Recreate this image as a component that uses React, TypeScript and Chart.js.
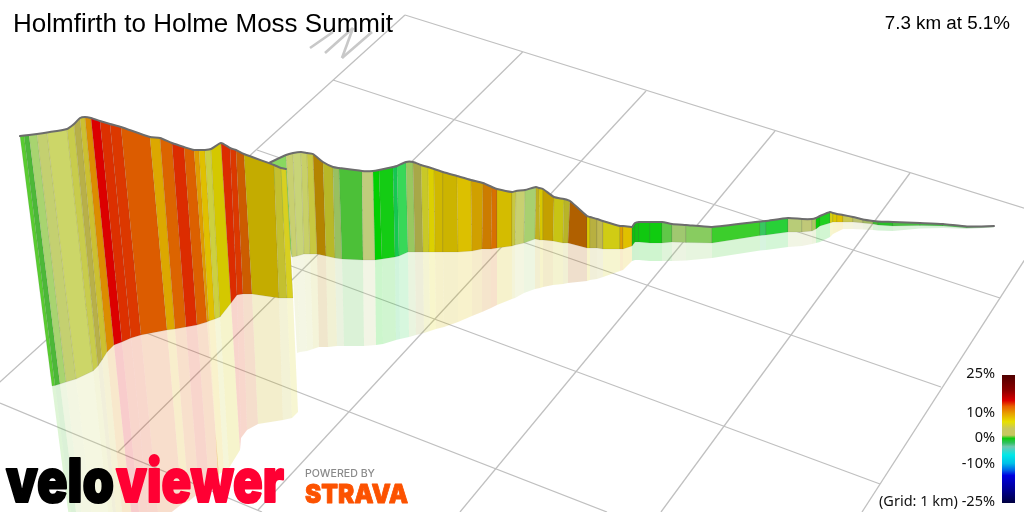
import React, { useEffect, useRef } from "react";
import { Chart, registerables } from "chart.js";

Chart.register(...registerables);

// Section 1: foreground wall
const topX1 = [20,24,29,37,47,67,74,80,85,91,100,110,121,150,160,172,184,194,199,205,211,221,230,236,244,274,281,286];
const topY1 = [136,135.5,135,134,132.5,129,124,118,117,118,121,124,127,137,138,143,147,150,150,150,149,143,148,150,154,165,168,169];
const baseX1 = [52,55,60,66,76,93,98,102,107,114,122,131,141,167,175,186,197,207,209,215,220,231,237,243,252,279,287,293];
const baseY1 = [386,385.5,384,382,379,371,366,360,352,345,342,338,335,330,329,327,325,322,321,319,317,303,295,294,294,298,298,298];
const reflX1 = [81,83,88,92,102,116,120,122,127,135,142,150,159,182,189,199,209,219,218,224,229,240,241,247,258,283,292,298];
const reflY1 = [611,610,608,605,601,589,584,578,564,549,541,531,522,504,501,493,485,477,475,471,468,450,438,430,424,420,418,412];
const colors1 = ["#58cc30","#4cb838","#a8d470","#c4d070","#ccd668","#c8cc4c","#b8b048","#ccc030","#dc8c00","#dc0000","#dc3000","#dc3800","#dc5c00","#dca800","#dc6400","#dc2c00","#dc6000","#e09c00","#e0c000","#ccd040","#d4c800","#dc2c00","#dc3800","#cc5c00","#c4ac00","#c4c030","#d8d020"];

// Section 2: middle wall
const topX2 = [269,286,293,301,307,313,323,333,339,362,373,379,393,397,406,413,421,428,434,443,457,471,483,492,497,512,516,525,536,539,543,554,564,570,587,590,597,603,620,623,632];
const topY2 = [163,155,153,152,153,154,162,167,168,171,171,170,167,166,162,162,165,167,169,172,176,180,183,187,189,192,191,190,187,188,189,197,199,201,216,217,219,221,226,226,227];
const baseX2 = [292,292,297,304,310,317,326,335,342,363,375,382,395,399,408,415,423,429,435,443,458,472,482,491,497,512,515,524,535,540,543,553,563,568,587,590,597,603,620,623,632];
const baseY2 = [257,257,256,254,254,254,256,258,259,260,260,259,257,256,252,252,252,252,252,252,252,251,249,249,248,246,245,243,239,240,240,241,243,243,248,248,248,249,249,249,246];
const reflX2 = [297,297,300,307,313,319,328,337,344,364,376,383,396,400,409,416,424,430,436,444,458,472,482,491,497,512,515,524,535,540,543,553,563,568,587,590,597,603,620,623,632];
const reflY2 = [353,353,352,351,349,347,347,346,346,346,345,344,340,339,337,335,333,331,329,327,322,316,312,308,305,299,298,293,289,288,287,285,284,283,281,280,279,277,271,270,261];
const colors2 = ["#88d860","#c8d070","#c8d478","#c8d068","#c8c840","#b48400","#b8b828","#98c060","#4cc038","#c0cc7c","#00d000","#14cc14","#14c850","#38d858","#98c860","#a8a848","#c8c828","#dcd000","#d0b800","#ccb400","#dcc000","#d0a000","#cc7c00","#d87000","#d4bc00","#c8c840","#c8d070","#a8d070","#c0b020","#d8c800","#c4a000","#c8c414","#b8b428","#b06000","#d8c800","#b8b040","#c0b850","#d0cc14","#e0a000","#e0c000"];

// Section 3: far wall
const topX3 = [632,635,639,650,662,672,686,712,760,766,788,802,812,816,820,830,833,837,843,853,863,873,878,893,920,943,967,994];
const topY3 = [227,223,222,222,222,224,225,227,221.5,221,218,219,219,218,216,212,213,214,215,217,219.5,221,221.5,222,223,224,226.5,226];
const baseY3 = [246,242,242,243,243,242,242.5,243,235.5,235,232,232,231,229,226,223,222,222,222,222,223,224,225,226,225.5,226,228,227];
const reflY3 = [261,260,260,261,261,261,260.5,258,250.5,250,247,246,244,243,242,237,234,232,229,229,229.5,230,230.5,231,228.5,228,229,227.5];
const colors3 = ["#10c010","#14c014","#10c810","#10cc10","#60c848","#a0c870","#88cc60","#3cce2c","#38c860","#28d038","#b8cc78","#c0c878","#a8c860","#08cc08","#20d020","#d8d010","#dcc800","#e0c000","#c8c850","#b8c070","#a0b860","#40b830","#28c028","#48c040","#40c040","#50c050","#60b860"];

// Ground grid: one line per entry [from x, from y, to x, to y]
const gridAcross = [[405,15,-10,391],[522.6,52,118,452],[646,91,258,510],[775,131,460,512],[910,173,661,512],[1040,236,862,512]];
const gridAlong = [[405,15,1030,210],[333,80,1000,298],[257,150,941,387],[175,223,880,484],[82,308,607,512],[0,403,262,512]];
const northStrokes = [[310,48,333,32],[325,53,353,28],[353,28,342,58],[342,58,372,32]];

// Legend
const legendLabels = ["25%","10%","0%","-10%","(Grid: 1 km) -25%"];
const legendLabelY = [374,413,438,464,502];
const legendBarX = [1002,1015];
const legendBarY = [375,503];
const legendStops = [0,0.12,0.2,0.245,0.3,0.365,0.42,0.47,0.495,0.53,0.56,0.625,0.69,0.745,0.785,0.9,1];
const legendColors = ["#500000","#8c0000","#dc0000","#e86000","#e8a000","#e8e000","#c8c860","#c8c860","#10cc10","#30c060","#70c8b0","#00e8e8","#00c0e8","#0060e8","#0000e0","#000090","#000040"];

const titleText = "Holmfirth to Holme Moss Summit";
const statText = "7.3 km at 5.1%";

function poly(xa: number[], ya: number[], xb: number[], yb: number[], i: number) {
  return [
    { x: xa[i], y: ya[i] },
    { x: xa[i + 1], y: ya[i + 1] },
    { x: xb[i + 1], y: yb[i + 1] },
    { x: xb[i], y: yb[i] },
    { x: xa[i], y: ya[i] },
  ];
}

function segLine(s: number[], color: string, width: number) {
  return {
    data: [{ x: s[0], y: s[1] }, { x: s[2], y: s[3] }],
    showLine: true, fill: false, borderColor: color, borderWidth: width, pointRadius: 0, borderCapStyle: "butt",
  };
}

function section(tx: number[], ty: number[], bx: number[], by: number[], rx: number[], ry: number[], cols: string[]) {
  const refl: any[] = [];
  const wall: any[] = [];
  cols.forEach((c, i) => {
    refl.push({
      data: poly(bx, by, rx, ry, i), showLine: true, fill: "shape",
      backgroundColor: c + "33", borderColor: "rgba(0,0,0,0)", borderWidth: 0, pointRadius: 0,
    });
    wall.push({
      data: poly(tx, ty, bx, by, i), showLine: true, fill: "shape",
      backgroundColor: c, borderColor: "rgba(90,90,90,0.16)", borderWidth: 0.7, pointRadius: 0,
    });
  });
  const outline = {
    data: tx.map((x, i) => ({ x, y: ty[i] })), showLine: true, fill: false,
    borderColor: "#6c6c6c", borderWidth: 2, pointRadius: 0, tension: 0.2, borderCapStyle: "round",
  };
  return { refl, wall, outline };
}

function fitText(ctx: CanvasRenderingContext2D, text: string, x: number, y: number, width: number, font: string, color: string, stroke = 0) {
  ctx.save();
  ctx.font = font;
  ctx.fillStyle = color;
  ctx.strokeStyle = color;
  ctx.lineJoin = "round";
  ctx.textAlign = "left";
  ctx.textBaseline = "alphabetic";
  const w = ctx.measureText(text).width;
  ctx.translate(x, y);
  ctx.scale(width / w, 1);
  if (stroke > 0) {
    ctx.lineWidth = stroke;
    ctx.strokeText(text, 0, 0);
  }
  ctx.fillText(text, 0, 0);
  ctx.restore();
}

const textPlugin = {
  id: "pageText",
  afterDatasetsDraw(chart: any) {
    const ctx: CanvasRenderingContext2D = chart.ctx;
    const X = chart.scales.x;
    const Y = chart.scales.y;
    ctx.save();
    ctx.fillStyle = "#000";
    ctx.textBaseline = "alphabetic";
    ctx.textAlign = "left";
    ctx.font = '26px "Liberation Sans"';
    ctx.fillText(titleText, X.getPixelForValue(13), Y.getPixelForValue(32));
    ctx.textAlign = "right";
    ctx.font = '18.8px "Liberation Sans"';
    ctx.fillText(statText, X.getPixelForValue(1010), Y.getPixelForValue(29));
    ctx.font = '14.5px "Noto Sans"';
    ctx.textBaseline = "middle";
    ctx.fillStyle = "#111";
    legendLabels.forEach((t, i) => ctx.fillText(t, X.getPixelForValue(995), Y.getPixelForValue(legendLabelY[i])));
    ctx.restore();

    fitText(ctx, "velo", X.getPixelForValue(6), Y.getPixelForValue(502), 108, '900 60px Inter', "#000", 2);
    fitText(ctx, "viewer", X.getPixelForValue(116), Y.getPixelForValue(502), 168, '900 60px Inter', "#ff0033", 2);
    fitText(ctx, "POWERED BY", X.getPixelForValue(305), Y.getPixelForValue(477), 70, '500 10px Inter', "#8a8a8a");
    fitText(ctx, "STRAVA", X.getPixelForValue(305), Y.getPixelForValue(503), 103, '900 26px Inter', "#fc5200", 0.8);
  },
};

export default function App() {
  const ref = useRef<HTMLCanvasElement>(null);
  useEffect(() => {
    const canvas = ref.current!;
    const ctx = canvas.getContext("2d")!;
    const s1 = section(topX1, topY1, baseX1, baseY1, reflX1, reflY1, colors1);
    const s2 = section(topX2, topY2, baseX2, baseY2, reflX2, reflY2, colors2);
    const s3 = section(topX3, topY3, topX3, baseY3, topX3, reflY3, colors3);

    const barGradient = ctx.createLinearGradient(0, legendBarY[0], 0, legendBarY[1]);
    legendStops.forEach((s, i) => barGradient.addColorStop(s, legendColors[i]));
    const legendBar = {
      data: [
        { x: legendBarX[0], y: legendBarY[0] },
        { x: legendBarX[1], y: legendBarY[0] },
        { x: legendBarX[1], y: legendBarY[1] },
        { x: legendBarX[0], y: legendBarY[1] },
        { x: legendBarX[0], y: legendBarY[0] },
      ],
      showLine: true, fill: "shape", backgroundColor: barGradient, borderColor: "rgba(0,0,0,0)", borderWidth: 0, pointRadius: 0,
    };

    // listed bottom to top; Chart.js paints the first dataset last, so the list is reversed below
    const layers: any[] = [
      ...gridAcross.map((s) => segLine(s, "#c0c0c0", 1.3)),
      ...gridAlong.map((s) => segLine(s, "#c0c0c0", 1.3)),
      ...northStrokes.map((s) => segLine(s, "#c8c8c8", 2.6)),
      ...s3.refl, ...s2.refl, ...s1.refl,
      ...s3.wall, s3.outline,
      ...s2.wall, s2.outline,
      ...s1.wall, s1.outline,
      legendBar,
    ];

    const chart = new Chart(canvas, {
      type: "scatter",
      data: { datasets: layers.slice().reverse() },
      options: {
        responsive: false,
        animation: false,
        devicePixelRatio: 1,
        layout: { padding: 0 },
        events: [],
        scales: {
          x: { type: "linear", min: 0, max: 1024, display: false },
          y: { type: "linear", min: 0, max: 512, reverse: true, display: false },
        },
        plugins: { legend: { display: false }, title: { display: false }, tooltip: { enabled: false } },
      },
      plugins: [textPlugin],
    } as any);
    return () => chart.destroy();
  }, []);
  return (
    <div style={{ position: "fixed", left: 0, top: 0, width: 1024, height: 512, background: "#fff" }}>
      <canvas ref={ref} width={1024} height={512} style={{ display: "block", width: 1024, height: 512 }} />
    </div>
  );
}
